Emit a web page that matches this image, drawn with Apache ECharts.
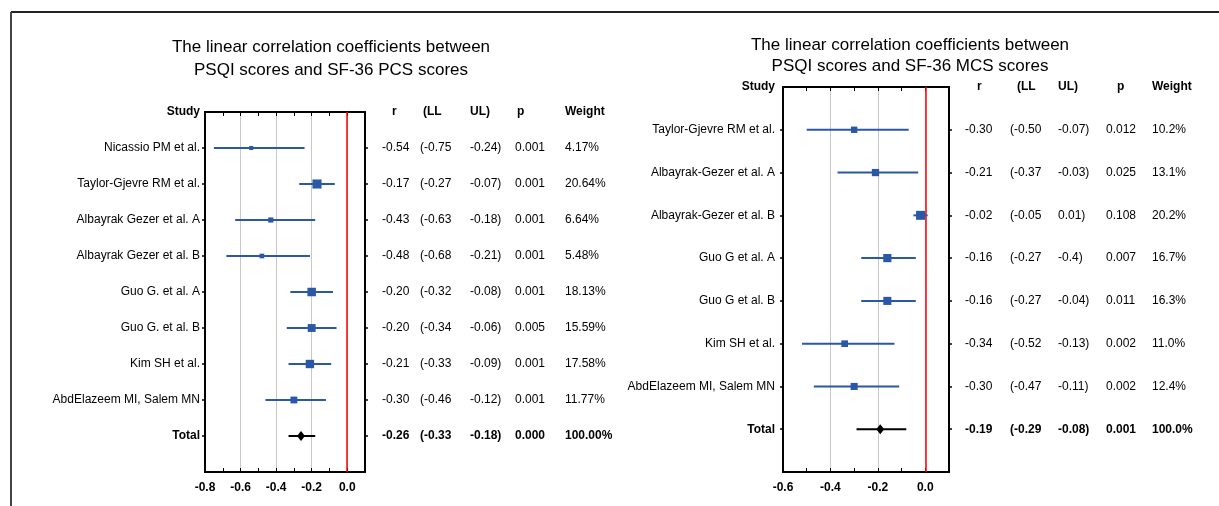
<!DOCTYPE html>
<html>
<head>
<meta charset="utf-8">
<script src="https://cdn.jsdelivr.net/npm/echarts@6.0.0/dist/echarts.min.js"></script>
<style>
html, body { margin: 0; padding: 0; background: #fff; }
#chart { width: 1219px; height: 506px; }
</style>
</head>
<body>
<div id="chart"></div>
<script>
// left panel: PSQI vs SF-36 PCS
var pcsStudy = ['Nicassio PM et al.', 'Taylor-Gjevre RM et al.', 'Albayrak Gezer et al. A', 'Albayrak Gezer et al. B',
    'Guo G. et al. A', 'Guo G. et al. B', 'Kim SH et al.', 'AbdElazeem MI, Salem MN'];
var pcsR  = [-0.54, -0.17, -0.43, -0.48, -0.20, -0.20, -0.21, -0.30];
var pcsLL = [-0.75, -0.27, -0.63, -0.68, -0.32, -0.34, -0.33, -0.46];
var pcsUL = [-0.24, -0.07, -0.18, -0.21, -0.08, -0.06, -0.09, -0.12];
var pcsWeight = [4.17, 20.64, 6.64, 5.48, 18.13, 15.59, 17.58, 11.77];
var pcsTotal = [-0.26, -0.33, -0.18];   // r, LL, UL
var pcsRText  = ['-0.54', '-0.17', '-0.43', '-0.48', '-0.20', '-0.20', '-0.21', '-0.30', '-0.26'];
var pcsLLText = ['(-0.75', '(-0.27', '(-0.63', '(-0.68', '(-0.32', '(-0.34', '(-0.33', '(-0.46', '(-0.33'];
var pcsULText = ['-0.24)', '-0.07)', '-0.18)', '-0.21)', '-0.08)', '-0.06)', '-0.09)', '-0.12)', '-0.18)'];
var pcsPText  = ['0.001', '0.001', '0.001', '0.001', '0.001', '0.005', '0.001', '0.001', '0.000'];
var pcsWText  = ['4.17%', '20.64%', '6.64%', '5.48%', '18.13%', '15.59%', '17.58%', '11.77%', '100.00%'];

// right panel: PSQI vs SF-36 MCS
var mcsStudy = ['Taylor-Gjevre RM et al.', 'Albayrak-Gezer et al. A', 'Albayrak-Gezer et al. B',
    'Guo G et al. A', 'Guo G et al. B', 'Kim SH et al.', 'AbdElazeem MI, Salem MN'];
var mcsR  = [-0.30, -0.21, -0.02, -0.16, -0.16, -0.34, -0.30];
var mcsLL = [-0.50, -0.37, -0.05, -0.27, -0.27, -0.52, -0.47];
var mcsUL = [-0.07, -0.03, 0.01, -0.04, -0.04, -0.13, -0.11];
var mcsWeight = [10.2, 13.1, 20.2, 16.7, 16.3, 11.0, 12.4];
var mcsTotal = [-0.19, -0.29, -0.08];
var mcsRText  = ['-0.30', '-0.21', '-0.02', '-0.16', '-0.16', '-0.34', '-0.30', '-0.19'];
var mcsLLText = ['(-0.50', '(-0.37', '(-0.05', '(-0.27', '(-0.27', '(-0.52', '(-0.47', '(-0.29'];
var mcsULText = ['-0.07)', '-0.03)', '0.01)', '-0.4)', '-0.04)', '-0.13)', '-0.11)', '-0.08)'];
var mcsPText  = ['0.012', '0.025', '0.108', '0.007', '0.011', '0.002', '0.002', '0.001'];
var mcsWText  = ['10.2%', '13.1%', '20.2%', '16.7%', '16.3%', '11.0%', '12.4%', '100.0%'];

var colHeaders = ['r', '(LL', 'UL)', 'p', 'Weight'];
var xTicks = [-0.8, -0.6, -0.4, -0.2, 0.0];

var FONT = '"Liberation Sans", Arial, sans-serif';
var BLUE = '#2b57a7';

var chart = echarts.init(document.getElementById('chart'));

var option = {
    animation: false,
    grid: [],
    xAxis: [],
    yAxis: [],
    series: [],
    graphic: [
        // outer frame
        {type: 'line', shape: {x1: 11, y1: 12, x2: 1219, y2: 12}, style: {stroke: '#222', lineWidth: 2}},
        {type: 'line', shape: {x1: 11, y1: 12, x2: 11, y2: 506}, style: {stroke: '#444', lineWidth: 2}},
        {type: 'text', x: 331, y: 58.5, style: {
            text: 'The linear correlation coefficients between\nPSQI scores and SF-36 PCS scores',
            align: 'center', verticalAlign: 'middle', fontSize: 17, fontFamily: FONT, lineHeight: 23, fill: '#000'}},
        {type: 'text', x: 910, y: 56, style: {
            text: 'The linear correlation coefficients between\nPSQI scores and SF-36 MCS scores',
            align: 'center', verticalAlign: 'middle', fontSize: 17, fontFamily: FONT, lineHeight: 21, fill: '#000'}}
    ]
};

function ciLines(color) {
    return function (params, api) {
        var a = api.coord([api.value(0), api.value(2)]);
        var b = api.coord([api.value(1), api.value(2)]);
        return {
            type: 'line',
            shape: {x1: a[0], y1: a[1], x2: b[0], y2: b[1]},
            style: {stroke: color, lineWidth: 2}
        };
    };
}

function addPanel(p) {
    var gi = option.grid.length;
    var xi = option.xAxis.length;
    var yi = option.yAxis.length;
    var n = p.study.length;
    var totalRow = n + 1;
    var rows = ['Study'].concat(p.study, ['Total', '']);

    option.grid.push({
        left: p.left, top: p.top, width: p.width, height: p.height,
        show: true, borderColor: '#000', borderWidth: 2, backgroundColor: 'transparent',
        containLabel: false, outerBoundsMode: 'none'
    });

    var xBase = {type: 'value', gridIndex: gi, min: p.min, max: p.max,
        axisLine: {show: false, onZero: false}, splitLine: {show: false}};
    // labels + grid lines
    option.xAxis.push(Object.assign({}, xBase, {
        position: 'bottom', interval: 0.2,
        axisTick: {show: false},
        axisLabel: {
            margin: 10, color: '#000', fontSize: 12, fontWeight: 'bold', fontFamily: FONT,
            formatter: function (v) {
                for (var i = 0; i < xTicks.length; i++) {
                    if (Math.abs(v - xTicks[i]) < 1e-6) return xTicks[i].toFixed(1);
                }
                return '';
            }
        },
        splitLine: {show: true, showMinLine: false, showMaxLine: false, lineStyle: {color: '#c8c8c8', width: 1}}
    }));
    // small inside ticks, bottom and top
    ['bottom', 'top'].forEach(function (pos) {
        option.xAxis.push(Object.assign({}, xBase, {
            position: pos, interval: 0.1,
            axisTick: {show: true, inside: true, length: 4, lineStyle: {color: '#000', width: 1}},
            axisLabel: {show: false}
        }));
    });

    var yBase = {type: 'category', gridIndex: gi, inverse: true, boundaryGap: false,
        axisLine: {show: false, onZero: false}, splitLine: {show: false}};
    var rowTick = {
        show: true, inside: false, length: 3, lineStyle: {color: '#000', width: 1.5},
        interval: function (i) { return i > 0 && i <= totalRow; }
    };
    // study names
    option.yAxis.push(Object.assign({}, yBase, {
        position: 'left', data: rows,
        axisTick: rowTick,
        axisLabel: {
            interval: 0, margin: p.nameMargin, color: '#000', fontSize: 12, fontFamily: FONT,
            formatter: function (v, i) {
                return (i === 0 || i === totalRow) ? '{b|' + v + '}' : v;
            },
            rich: {b: {fontWeight: 'bold', fontSize: 12, fontFamily: FONT, color: '#000'}}
        }
    }));
    // right edge ticks
    option.yAxis.push(Object.assign({}, yBase, {
        position: 'right', data: rows,
        axisTick: rowTick,
        axisLabel: {show: false}
    }));
    // table columns
    p.cols.forEach(function (vals, k) {
        var pad = p.headerPad[k];
        option.yAxis.push(Object.assign({}, yBase, {
            position: 'right', offset: p.colOffset[k],
            data: [colHeaders[k]].concat(vals, ['']),
            axisTick: {show: false},
            axisLabel: {
                interval: 0, margin: 0, color: '#000', fontSize: 12, fontFamily: FONT,
                formatter: function (v, i) {
                    if (i === 0) return '{h|' + v + '}';
                    if (i === totalRow) return '{b|' + v + '}';
                    return v;
                },
                rich: {
                    h: {fontWeight: 'bold', fontSize: 12, fontFamily: FONT, color: '#000', padding: [0, 0, 0, pad]},
                    b: {fontWeight: 'bold', fontSize: 12, fontFamily: FONT, color: '#000'}
                }
            }
        }));
    });

    // confidence intervals
    option.series.push({
        type: 'custom', xAxisIndex: xi, yAxisIndex: yi, z: 5,
        encode: {x: [0, 1], y: 2},
        data: p.study.map(function (s, i) { return [p.ll[i], p.ul[i], i + 1]; }),
        renderItem: ciLines(BLUE)
    });
    option.series.push({
        type: 'custom', xAxisIndex: xi, yAxisIndex: yi, z: 5,
        encode: {x: [0, 1], y: 2},
        data: [[p.total[1], p.total[2], totalRow]],
        renderItem: ciLines('#000')
    });
    // point estimates, square size by weight
    option.series.push({
        type: 'scatter', xAxisIndex: xi, yAxisIndex: yi, z: 6,
        symbol: 'rect',
        symbolSize: function (val, params) { return 2.0 * Math.sqrt(p.weight[params.dataIndex]); },
        itemStyle: {color: BLUE, opacity: 1},
        data: p.r.map(function (v, i) { return [v, i + 1]; }),
        markLine: {
            silent: true, z: 2, symbol: ['none', 'none'], label: {show: false},
            lineStyle: {color: '#ff0000', width: 1.5, type: 'solid'},
            data: [{xAxis: 0}]
        }
    });
    option.series.push({
        type: 'scatter', xAxisIndex: xi, yAxisIndex: yi, z: 6,
        symbol: 'diamond', symbolSize: [8, 10],
        itemStyle: {color: '#000', opacity: 1},
        data: [[p.total[0], totalRow]]
    });
}

addPanel({
    left: 205, top: 112, width: 160, height: 360, min: -0.8, max: 0.1, nameMargin: 5,
    study: pcsStudy, r: pcsR, ll: pcsLL, ul: pcsUL, weight: pcsWeight, total: pcsTotal,
    cols: [pcsRText, pcsLLText, pcsULText, pcsPText, pcsWText],
    colOffset: [17, 55, 105, 150, 200],
    headerPad: [10, 3, 0, 2, 0]
});
addPanel({
    left: 783, top: 87, width: 166, height: 385, min: -0.6, max: 0.1, nameMargin: 8,
    study: mcsStudy, r: mcsR, ll: mcsLL, ul: mcsUL, weight: mcsWeight, total: mcsTotal,
    cols: [mcsRText, mcsLLText, mcsULText, mcsPText, mcsWText],
    colOffset: [16, 61, 109, 157, 203],
    headerPad: [12, 7, 0, 11, 0]
});

chart.setOption(option);
</script>
</body>
</html>
